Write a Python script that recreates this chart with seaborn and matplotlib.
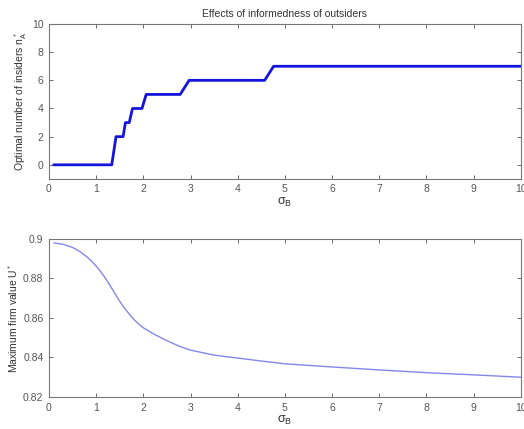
import numpy as np
import pandas as pd
import matplotlib
matplotlib.use("Agg")
import matplotlib.pyplot as plt
import seaborn as sns

# top panel: optimal number of insiders (step-like curve)
sigma_top = [0.1, 1.33, 1.42, 1.57, 1.62, 1.70, 1.77, 1.97, 2.06, 2.78, 2.97, 4.57, 4.76, 10.0]
n_insiders = [0, 0, 2, 2, 3, 3, 4, 4, 5, 5, 6, 6, 7, 7]

# bottom panel: maximum firm value
sigma_bot = [0.1, 0.3, 0.5, 0.65, 0.8, 0.9, 1.0, 1.1, 1.2, 1.3, 1.4, 1.5, 1.6, 1.7, 1.8, 1.9,
             2.0, 2.25, 2.5, 2.75, 3.0, 3.5, 4.0, 4.5, 5.0, 6.0, 7.0, 8.0, 9.0, 10.0]
firm_value = [0.8980, 0.8973, 0.8957, 0.8937, 0.8910, 0.8888, 0.8863, 0.8833, 0.8800, 0.8762,
              0.8722, 0.8684, 0.8650, 0.8620, 0.8592, 0.8570, 0.8550, 0.8515, 0.8485, 0.8458,
              0.8437, 0.8412, 0.8397, 0.8382, 0.8368, 0.8352, 0.8337, 0.8323, 0.8312, 0.8300]

sns.set_theme(style="white")
plt.rcParams['font.family'] = ['Liberation Sans', 'DejaVu Sans']
plt.rcParams['text.color'] = '#333333'
plt.rcParams['axes.labelcolor'] = '#333333'
plt.rcParams['xtick.color'] = '#555555'
plt.rcParams['ytick.color'] = '#555555'

fig = plt.figure(figsize=(5.24, 4.29), dpi=100)
ax1 = fig.add_axes([0.0935, 0.583, 0.9005, 0.361])
ax2 = fig.add_axes([0.0935, 0.0746, 0.9005, 0.3684])

df_top = pd.DataFrame({"sigma": sigma_top, "n": n_insiders})
df_bot = pd.DataFrame({"sigma": sigma_bot, "u": firm_value})

sns.lineplot(data=df_top, x="sigma", y="n", ax=ax1, color="#1414dc", linewidth=2.0)
sns.lineplot(data=df_bot, x="sigma", y="u", ax=ax2, color="#8686ea", linewidth=1.0)

ax1.set_xlim(0, 10)
ax1.set_ylim(-1, 10)
ax1.set_yticks([0, 2, 4, 6, 8, 10])
ax2.set_xlim(0, 10)
ax2.set_ylim(0.82, 0.9)
ax2.set_yticks([0.82, 0.84, 0.86, 0.88, 0.9])
ax2.set_yticklabels(["0.82", "0.84", "0.86", "0.88", "0.9"])

for ax in (ax1, ax2):
    ax.set_xticks(range(0, 11))
    ax.tick_params(direction="in", length=3, width=0.6, labelsize=7.5,
                   bottom=True, left=True, top=True, right=True, pad=4)
    ax.set_xlabel(r"$\mathregular{\sigma_B}$", fontsize=9, labelpad=1)
    for s in ax.spines.values():
        s.set_color("#777777")
        s.set_linewidth(0.8)

ax1.set_title("Effects of informedness of outsiders", fontsize=7.5, pad=5)
ax1.set_ylabel(r"Optimal number of insiders $\mathregular{n_A^*}$", fontsize=7.5, labelpad=2)
ax2.set_ylabel(r"Maximum firm value $\mathregular{U^*}$", fontsize=7.5, labelpad=2)

fig.savefig("out.png", dpi=100)
